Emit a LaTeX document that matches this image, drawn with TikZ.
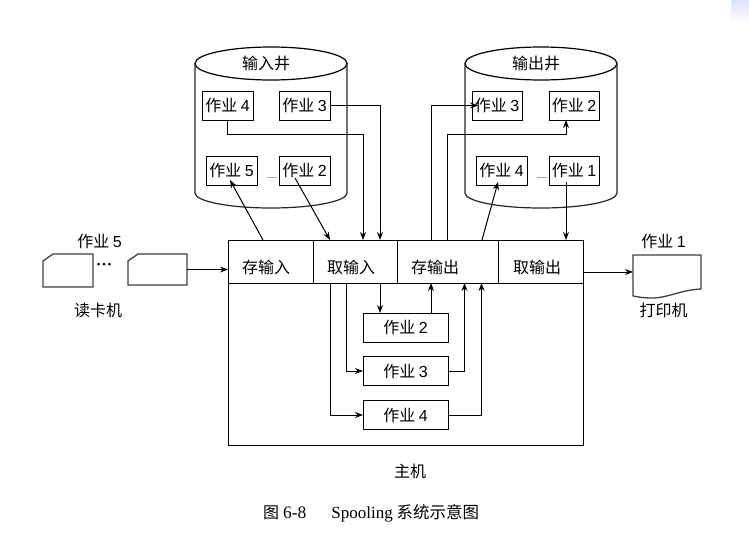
\documentclass[tikz,border=0pt]{standalone}
\usepackage{fontspec}
\setmainfont{Liberation Sans}
\newfontfamily\cjk{Noto Sans CJK SC}
\newfontfamily\capserif{Liberation Serif}
\usetikzlibrary{arrows.meta,shapes.geometric,calc}
\tikzset{
  txt/.style={inner sep=0pt,outer sep=0pt,font=\fontsize{16}{18}\selectfont\cjk},
  jobbox/.style={draw,line width=1pt,fill=white,inner sep=0pt,outer sep=0pt,minimum height=29pt,minimum width=51pt,font=\fontsize{16}{18}\selectfont\cjk},
  corebox/.style={jobbox,minimum width=85pt},
  cell/.style={draw,line width=1pt,inner sep=0pt,outer sep=0pt,minimum height=43pt},
  drumtop/.style={ellipse,draw,line width=1.2pt,inner sep=0pt,outer sep=0pt,minimum width=152pt,minimum height=33pt,font=\fontsize{16}{18}\selectfont\cjk},
  drumside/.style={line width=1.2pt,black!85},
  arr/.style={line width=1pt,-{Stealth[length=8pt,width=6pt]}},
  device/.style={line width=1.3pt,black!75},
  faint/.style={line width=1pt,black!35}
}
\newcommand{\worklabel}[1]{作业 {\fontspec{Liberation Sans}#1}}
\begin{document}
\begin{tikzpicture}[x=1pt,y=-1pt]
\useasboundingbox (0,0) rectangle (749,535);
\fill[white] (0,0) rectangle (749,535);
% corner tint
\shade[top color=blue!12,bottom color=white] (731,0) rectangle (749,24);

% input well
\node[drumtop] (wellin) at (271,63.5) {\hspace*{-10pt}输入井};
\draw[drumside] (wellin.west) -- ++(0,129.5) arc[start angle=180,end angle=360,x radius=76pt,y radius=15pt] -- (wellin.east);
\node[jobbox] (in4) at (227.5,105.5) {\worklabel{4}};
\node[jobbox] (in3) at (304.5,105.5) {\worklabel{3}};
\node[jobbox] (in5) at (231.5,170.5) {\worklabel{5}};
\node[jobbox] (in2) at (304.5,170.5) {\worklabel{2}};
\draw[faint] (267,177) -- (277,177);

% output well
\node[drumtop] (wellout) at (541,63.5) {\hspace*{-10pt}输出井};
\draw[drumside] (wellout.west) -- ++(0,129.5) arc[start angle=180,end angle=360,x radius=76pt,y radius=15pt] -- (wellout.east);
\node[jobbox,minimum width=50pt] (out3) at (497,105.5) {\worklabel{3}};
\node[jobbox,minimum width=50pt] (out2) at (574,105.5) {\worklabel{2}};
\node[jobbox] (out4) at (501.5,170.5) {\worklabel{4}};
\node[jobbox,minimum width=50pt] (out1) at (574,170.5) {\worklabel{1}};
\draw[faint] (537,177) -- (547,177);

% host with its four process cells
\node[draw,line width=1pt,inner sep=0pt,outer sep=0pt,minimum width=355pt,minimum height=205pt] (host) at (405.5,342.5) {};
\node[cell,minimum width=85pt] (cellA) at (270.5,261.5) {};
\node[cell,minimum width=84pt] (cellB) at (355,261.5) {};
\node[cell,minimum width=101pt] (cellC) at (447.5,261.5) {};
\node[cell,minimum width=85pt] (cellD) at (540.5,261.5) {};
\node[txt] (tA) at (266,267) {存输入};
\node[txt] (tB) at (351,267) {取输入};
\node[txt] (tC) at (435,267) {存输出};
\node[txt] (tD) at (537,267) {取输出};

% jobs held in memory
\node[corebox] (job2) at (405.5,327.5) {\worklabel{2}};
\node[corebox] (job3) at (405.5,371) {\worklabel{3}};
\node[corebox] (job4) at (405.5,415) {\worklabel{4}};

% card reader
\draw[device] (43,261) -- (53,254) -- (93,254) -- (93,287) -- (43,287) -- cycle;
\node[inner sep=0pt,outer sep=0pt,minimum width=59pt,minimum height=31pt] (card) at (157.5,269.5) {};
\draw[device] (128,261) -- (138,254) -- (187,254) -- (187,285) -- (128,285) -- cycle;
\fill (98.5,264) circle (1.5pt) (104,264) circle (1.5pt) (109.5,264) circle (1.5pt);
\node[txt] (job5lbl) at (99.5,241) {\worklabel{5}};
\node[txt] (reader) at (98,310) {读卡机};

% printer
\draw[device] (633,296) -- (633,255) -- (701,255) -- (701,289)
  .. controls (680,290) and (668,298) .. (652,298) .. controls (644,298) and (638,297) .. (633,296);
\node[inner sep=0pt,outer sep=0pt,minimum width=68pt,minimum height=34pt] (printer) at (667,272) {};
\node[txt] (job1lbl) at (663.5,241) {\worklabel{1}};
\node[txt] (printlbl) at (663.5,310) {打印机};

% labels beneath the host
\node[txt] (hostlbl) at (410,471) {主机};
\node[anchor=west,inner sep=0pt,outer sep=0pt,font=\fontsize{16}{18}\selectfont\cjk] (cap1) at (263,513) {图\hspace{4pt}{\fontsize{17.5}{18}\selectfont\capserif 6-8}};
\node[anchor=east,inner sep=0pt,outer sep=0pt,font=\fontsize{16.5}{18}\selectfont\cjk] (cap2) at (479,513) {{\fontsize{17}{18}\selectfont\capserif Spooling} 系统示意图};

% connectors around the input well
\draw[arr] (in3.east) -| ([xshift=25pt]cellB.north);
\draw[arr] (in4.south) -- ++(0,14) -| ([xshift=8pt]cellB.north);
\draw[arr] ([xshift=-7.5pt]cellA.north) -- ([xshift=-1.5pt,yshift=5pt]in5.south);
\draw[arr] ([xshift=-9.5pt,yshift=7pt]in2.south) -- ([xshift=-25pt]cellB.north);

% connectors around the output well
\draw[arr] ([xshift=-16.5pt]cellC.north) |- ([xshift=6pt]out3.west);
\draw[arr] (cellC.north) |- ([xshift=-8pt,yshift=-14pt]out2.south) -- ([xshift=-8pt]out2.south);
\draw[arr] ([xshift=34.5pt]cellC.north) -- ([xshift=-3.5pt,yshift=3pt]out4.south);
\draw[arr] ([xshift=-8pt,yshift=3pt]out1.south) -- ([xshift=25.5pt]cellD.north);

% connectors inside the host
\draw[arr] ([xshift=25pt]cellB.south) -- ([xshift=-25.5pt]job2.north);
\draw[arr] ([xshift=25.5pt]job2.north) -- ([xshift=-16.5pt]cellC.south);
\draw[arr] ([xshift=-9pt]cellB.south) |- (job3.west);
\draw[arr] ([xshift=-25pt]cellB.south) |- (job4.west);
\draw[arr] (job3.east) -| ([xshift=17pt]cellC.south);
\draw[arr] (job4.east) -| ([xshift=34pt]cellC.south);

% device links
\draw[arr] (card.east) -- (card.east -| cellA.west);
\draw[arr] (cellD.east |- printer.west) -- (printer.west);
\end{tikzpicture}
\end{document}
